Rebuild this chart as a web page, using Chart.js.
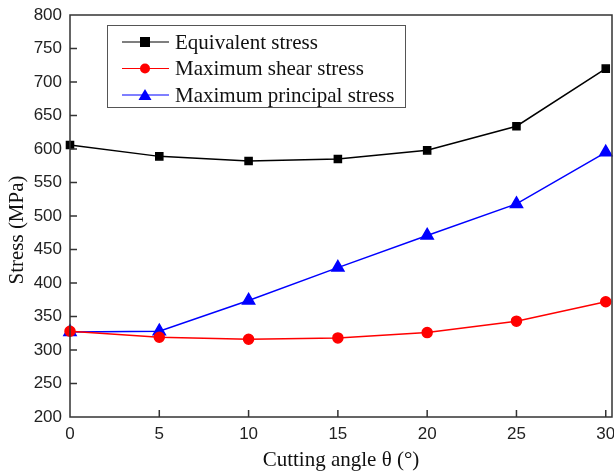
<!DOCTYPE html>
<html>
<head>
<meta charset="utf-8">
<script src="https://cdn.jsdelivr.net/npm/chart.js@4"></script>
<style>
  html, body { margin: 0; padding: 0; background: #fff; }
  #wrap { width: 614px; height: 472px; }
</style>
</head>
<body>
<div id="wrap"><canvas id="chart" width="614" height="472"></canvas></div>
<script>
// ---------------- DATA ----------------
const angles = [0, 5, 10, 15, 20, 25, 30];
const equivalentStress = [606, 589, 582, 585, 598, 634, 720];
const shearStress = [328, 319, 316, 318, 326, 343, 372];
const principalStress = [327, 328, 374, 423, 471, 518, 595];
const xTicks = [0, 5, 10, 15, 20, 25, 30];
const yTicks = [200, 250, 300, 350, 400, 450, 500, 550, 600, 650, 700, 750, 800];

const seriesNames = ["Equivalent stress", "Maximum shear stress", "Maximum principal stress"];
const seriesColors = ["#000000", "#ff0000", "#0000ff"];
const seriesMarkers = ["rect", "circle", "triangle"];
const markerSizes = [5, 5, 7];

const AXIS = "#333333";
const SERIF = "'Liberation Serif', 'Times New Roman', serif";
const SANS = "'Liberation Sans', Arial, sans-serif";

// plot frame in canvas pixels
const AREA = { left: 70, right: 612, top: 15, bottom: 417 };

function toPoints(ys) { return angles.map((a, i) => ({ x: a, y: ys[i] })); }

// ---------------- PLUGINS ----------------
// pin the plot area to the reference frame
const pinAreaPlugin = {
  id: "pinArea",
  afterLayout(chart) {
    const { left, right, top, bottom } = AREA;
    chart.chartArea = { left, right, top, bottom, width: right - left, height: bottom - top };
    const x = chart.scales.x, y = chart.scales.y;
    Object.assign(x, { left, right, width: right - left, top: bottom, bottom: chart.height, height: chart.height - bottom });
    Object.assign(y, { left: 0, right: left, width: left, top, bottom, height: bottom - top });
    x.configure();
    y.configure();
  }
};

// frame + inward ticks + y title
const framePlugin = {
  id: "frame",
  afterDatasetsDraw(chart) {
    const { ctx, chartArea: a, scales } = chart;
    ctx.save();
    ctx.strokeStyle = AXIS;
    ctx.lineWidth = 1.5;
    ctx.strokeRect(a.left, a.top, a.right - a.left, a.bottom - a.top);
    ctx.beginPath();
    xTicks.forEach(v => {
      if (v === 0) return;
      const px = scales.x.getPixelForValue(v);
      ctx.moveTo(px, a.bottom);
      ctx.lineTo(px, a.bottom - 7);
    });
    yTicks.forEach(v => {
      if (v === 200 || v === 800) return;
      const py = scales.y.getPixelForValue(v);
      ctx.moveTo(a.left, py);
      ctx.lineTo(a.left + 7, py);
    });
    ctx.stroke();

    // y axis title
    ctx.translate(17, 230);
    ctx.rotate(-Math.PI / 2);
    ctx.fillStyle = "#111";
    ctx.font = "21px " + SERIF;
    ctx.textAlign = "center";
    ctx.textBaseline = "middle";
    ctx.fillText("Stress (MPa)", 0, 0);
    ctx.restore();
  }
};

// legend box inside plot
const legendPlugin = {
  id: "boxLegend",
  afterDraw(chart) {
    const { ctx } = chart;
    const x0 = 107, y0 = 25, w = 298, h = 82;
    ctx.save();
    ctx.fillStyle = "#fff";
    ctx.fillRect(x0, y0, w, h);
    ctx.strokeStyle = "#555";
    ctx.lineWidth = 1;
    ctx.strokeRect(x0 + 0.5, y0 + 0.5, w, h);
    ctx.font = "21px " + SERIF;
    ctx.textBaseline = "middle";
    seriesNames.forEach((name, i) => {
      const cy = y0 + 17 + i * 26.5;
      ctx.strokeStyle = seriesColors[i];
      ctx.lineWidth = 1.2;
      ctx.beginPath();
      ctx.moveTo(x0 + 15, cy);
      ctx.lineTo(x0 + 62, cy);
      ctx.stroke();
      ctx.fillStyle = seriesColors[i];
      const mx = x0 + 38;
      if (seriesMarkers[i] === "rect") {
        ctx.fillRect(mx - 5, cy - 5, 10, 10);
      } else if (seriesMarkers[i] === "circle") {
        ctx.beginPath(); ctx.arc(mx, cy, 5, 0, Math.PI * 2); ctx.fill();
      } else {
        ctx.beginPath();
        ctx.moveTo(mx, cy - 6); ctx.lineTo(mx + 6.5, cy + 5); ctx.lineTo(mx - 6.5, cy + 5);
        ctx.closePath(); ctx.fill();
      }
      ctx.fillStyle = "#111";
      ctx.fillText(name, x0 + 68, cy + 1);
    });
    ctx.restore();
  }
};

// ---------------- CHART ----------------
const datasets = [equivalentStress, shearStress, principalStress].map((ys, i) => ({
  label: seriesNames[i],
  data: toPoints(ys),
  borderColor: seriesColors[i],
  backgroundColor: seriesColors[i],
  borderWidth: 1.5,
  pointStyle: seriesMarkers[i],
  pointRadius: markerSizes[i],
  pointHoverRadius: markerSizes[i],
  tension: 0,
  clip: false
}));

new Chart(document.getElementById("chart").getContext("2d"), {
  type: "line",
  data: { datasets },
  options: {
    responsive: false,
    animation: false,
    events: [],
    layout: { padding: { top: 15, right: 2, left: 0, bottom: 0 } },
    plugins: { legend: { display: false }, tooltip: { enabled: false } },
    scales: {
      x: {
        type: "linear",
        min: 0,
        max: 30.35,
        afterBuildTicks: s => { s.ticks = xTicks.map(v => ({ value: v })); },
        grid: { display: false, drawTicks: false },
        border: { display: false },
        ticks: {
          color: "#222",
          padding: 7,
          maxRotation: 0,
          font: { family: SANS, size: 17 }
        },
        title: {
          display: true,
          text: "Cutting angle θ (°)",
          color: "#111",
          padding: { top: 3, bottom: -1 },
          font: { family: SERIF, size: 21 }
        }
      },
      y: {
        min: 200,
        max: 800,
        afterBuildTicks: s => { s.ticks = yTicks.map(v => ({ value: v })); },
        grid: { display: false, drawTicks: false },
        border: { display: false },
        ticks: {
          color: "#222",
          padding: 8,
          font: { family: SANS, size: 17 }
        },
        title: { display: false }
      }
    }
  },
  plugins: [pinAreaPlugin, framePlugin, legendPlugin]
});
</script>
</body>
</html>
